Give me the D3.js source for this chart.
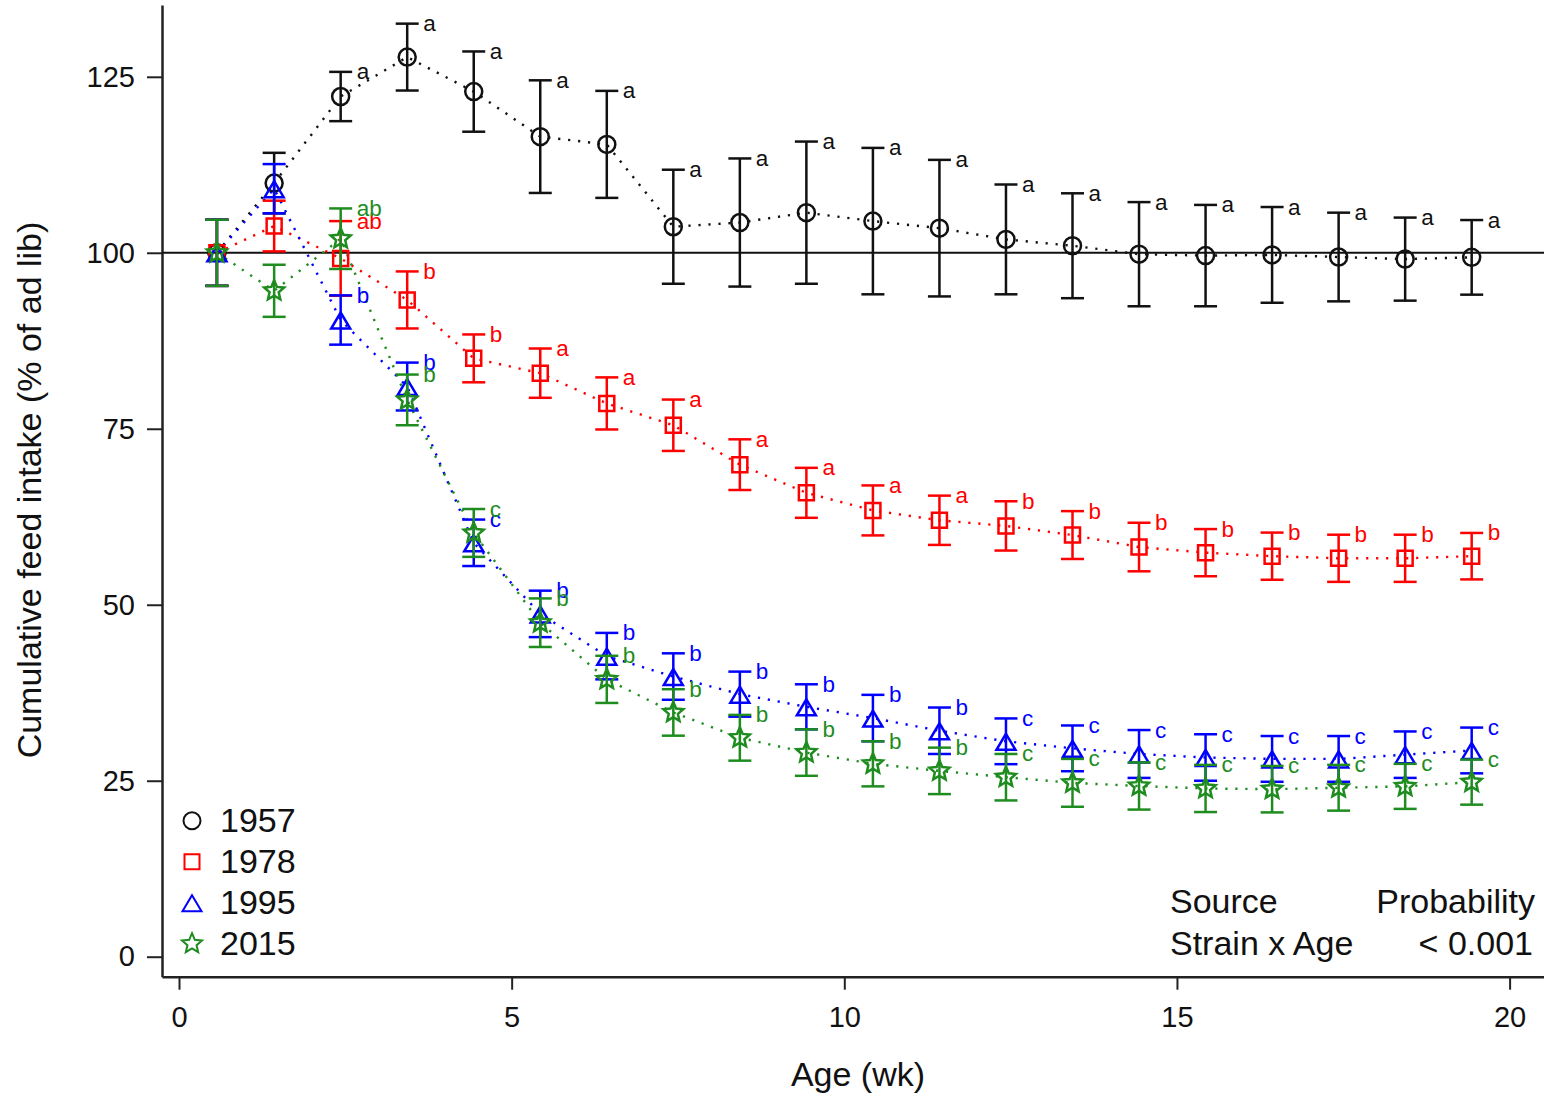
<!DOCTYPE html>
<html>
<head>
<meta charset="utf-8">
<script src="https://cdn.jsdelivr.net/npm/d3@7"></script>
<style>
  body { margin: 0; background: #fff; }
  svg { display: block; }
  text { font-family: "Liberation Sans", Arial, sans-serif; }
</style>
</head>
<body>
<svg id="chart" width="1544" height="1095"></svg>
<script>
// Age in weeks at each measurement
const ages = [0.57, 1.43, 2.43, 3.43, 4.43, 5.43, 6.43, 7.43, 8.43, 9.43,
              10.43, 11.43, 12.43, 13.43, 14.43, 15.43, 16.43, 17.43, 18.43, 19.43];

// Cumulative feed intake (% of ad lib), mean and SE per strain
const mean1957 = [100, 109.9, 122.2, 127.8, 122.9, 116.5, 115.4, 103.7, 104.3, 105.7,
                  104.5, 103.5, 101.9, 101.0, 99.8, 99.6, 99.7, 99.4, 99.1, 99.35];
const se1957   = [4.7, 4.3, 3.5, 4.75, 5.7, 8.0, 7.6, 8.1, 9.1, 10.1,
                  10.4, 9.7, 7.8, 7.45, 7.4, 7.2, 6.8, 6.3, 5.9, 5.3];

const mean1978 = [100, 103.8, 99.2, 93.3, 85.0, 82.9, 78.6, 75.5, 69.9, 65.9,
                  63.4, 62.0, 61.2, 59.9, 58.2, 57.4, 56.9, 56.6, 56.6, 56.9];
const se1978   = [4.7, 3.6, 5.3, 4.05, 3.4, 3.5, 3.7, 3.65, 3.6, 3.55,
                  3.55, 3.5, 3.5, 3.4, 3.45, 3.35, 3.35, 3.35, 3.35, 3.3];

const mean1995 = [100, 109.1, 90.45, 81.0, 58.8, 48.7, 42.7, 39.8, 37.3, 35.5,
                  33.9, 32.1, 30.6, 29.6, 28.8, 28.3, 28.1, 28.1, 28.7, 29.3];
const se1995   = [4.7, 3.5, 3.5, 3.4, 3.3, 3.3, 3.3, 3.3, 3.2, 3.2,
                  3.3, 3.3, 3.25, 3.25, 3.4, 3.3, 3.25, 3.25, 3.3, 3.25];

const mean2015 = [100, 94.6, 102.0, 79.1, 60.2, 47.45, 39.4, 34.7, 31.1, 29.0,
                  27.4, 26.4, 25.5, 24.7, 24.25, 23.9, 23.8, 24.0, 24.2, 24.8];
const se2015   = [4.7, 3.7, 4.3, 3.6, 3.4, 3.45, 3.35, 3.3, 3.25, 3.3,
                  3.2, 3.3, 3.3, 3.4, 3.35, 3.35, 3.3, 3.25, 3.2, 3.2];

// Mean separation letters within each age
const let1957 = ["", "", "a", "a", "a", "a", "a", "a", "a", "a",
                 "a", "a", "a", "a", "a", "a", "a", "a", "a", "a"];
const let1978 = ["", "", "ab", "b", "b", "a", "a", "a", "a", "a",
                 "a", "a", "b", "b", "b", "b", "b", "b", "b", "b"];
const let1995 = ["", "", "b", "b", "c", "b", "b", "b", "b", "b",
                 "b", "b", "c", "c", "c", "c", "c", "c", "c", "c"];
const let2015 = ["", "", "ab", "b", "c", "b", "b", "b", "b", "b",
                 "b", "b", "c", "c", "c", "c", "c", "c", "c", "c"];

const strains = ["1957", "1978", "1995", "2015"];
const colors  = ["#111111", "#ff0000", "#0000ff", "#1e8c1e"];

const xTicks = [0, 5, 10, 15, 20];
const yTicks = [0, 25, 50, 75, 100, 125];

// Open marker shapes
const markCircle = { draw(ctx) { ctx.moveTo(8.5, 0); ctx.arc(0, 0, 8.5, 0, 2 * Math.PI); } };
const markSquare = { draw(ctx) { ctx.rect(-7.5, -7.5, 15, 15); } };
const markTriangle = { draw(ctx) {
  ctx.moveTo(0, -7.5); ctx.lineTo(9.5, 8.5); ctx.lineTo(-9.5, 8.5); ctx.closePath();
} };
const markStar = { draw(ctx) {
  const R = 10.5, r = 4.8;
  for (let i = 0; i < 10; i++) {
    const rad = i % 2 === 0 ? R : r;
    const a = -Math.PI / 2 + i * Math.PI / 5;
    const px = rad * Math.cos(a), py = rad * Math.sin(a);
    if (i === 0) ctx.moveTo(px, py); else ctx.lineTo(px, py);
  }
  ctx.closePath();
} };
const shapes = [markCircle, markSquare, markTriangle, markStar];

const series = [
  { name: strains[0], color: colors[0], shape: shapes[0], mean: mean1957, se: se1957, letters: let1957 },
  { name: strains[1], color: colors[1], shape: shapes[1], mean: mean1978, se: se1978, letters: let1978 },
  { name: strains[2], color: colors[2], shape: shapes[2], mean: mean1995, se: se1995, letters: let1995 },
  { name: strains[3], color: colors[3], shape: shapes[3], mean: mean2015, se: se2015, letters: let2015 }
].map(s => ({ ...s, pts: ages.map((a, i) => ({ age: a, m: s.mean[i], s: s.se[i], lab: s.letters[i] })) }));

const svg = d3.select("#chart");

const x = d3.scaleLinear().domain([-0.2555, 20.517]).range([162, 1544]);
const y = d3.scaleLinear().domain([-2.84, 135.2]).range([976.7, 5]);

// Axes
const axisColor = "#222";
const gx = svg.append("g").attr("transform", `translate(0,${y.range()[0]})`)
  .call(d3.axisBottom(x).tickValues(xTicks).tickSize(13).tickSizeOuter(0).tickPadding(17));
const gy = svg.append("g").attr("transform", `translate(${x.range()[0]},0)`)
  .call(d3.axisLeft(y).tickValues(yTicks).tickSize(15).tickSizeOuter(0).tickPadding(12));
[gx, gy].forEach(g => {
  g.select(".domain").attr("stroke", axisColor).attr("stroke-width", 2.5);
  g.selectAll(".tick line").attr("stroke", axisColor).attr("stroke-width", 2);
  g.selectAll(".tick text").attr("fill", "#111").style("font-size", "29px")
    .style("font-family", '"Liberation Sans", Arial, sans-serif');
});

// Reference line at 100 %
svg.append("line")
  .attr("x1", x.range()[0]).attr("x2", x.range()[1])
  .attr("y1", y(100)).attr("y2", y(100))
  .attr("stroke", "#111").attr("stroke-width", 2);

// Dotted connecting lines
const line = d3.line().x(d => x(d.age)).y(d => y(d.m));
svg.append("g").selectAll("path").data(series).join("path")
  .attr("d", d => line(d.pts))
  .attr("fill", "none")
  .attr("stroke", d => d.color)
  .attr("stroke-width", 2.4)
  .attr("stroke-dasharray", "2.2 7.8");

// Error bars and markers
const cap = 11.5;
series.forEach(s => {
  const g = svg.append("g").attr("stroke", s.color).attr("stroke-width", 2.5).attr("fill", "none");
  const eb = g.selectAll("g.eb").data(s.pts).join("g").attr("class", "eb");
  eb.append("line")
    .attr("x1", d => x(d.age)).attr("x2", d => x(d.age))
    .attr("y1", d => y(d.m - d.s)).attr("y2", d => y(d.m + d.s));
  eb.append("line")
    .attr("x1", d => x(d.age) - cap).attr("x2", d => x(d.age) + cap)
    .attr("y1", d => y(d.m + d.s)).attr("y2", d => y(d.m + d.s));
  eb.append("line")
    .attr("x1", d => x(d.age) - cap).attr("x2", d => x(d.age) + cap)
    .attr("y1", d => y(d.m - d.s)).attr("y2", d => y(d.m - d.s));
  g.selectAll("path.mk").data(s.pts).join("path").attr("class", "mk")
    .attr("transform", d => `translate(${x(d.age)},${y(d.m)})`)
    .attr("d", d3.symbol().type(s.shape)());
});

// Significance letters beside the upper caps
series.forEach(s => {
  svg.append("g").selectAll("text").data(s.pts.filter(d => d.lab)).join("text")
    .attr("x", d => x(d.age) + 16)
    .attr("y", d => y(d.m + d.s) + 7.5)
    .attr("fill", s.color)
    .style("font-size", "22.5px")
    .text(d => d.lab);
});

// Axis titles
svg.append("text")
  .attr("x", 858).attr("y", 1086)
  .attr("text-anchor", "middle")
  .style("font-size", "34px").attr("fill", "#111")
  .text("Age (wk)");
svg.append("text")
  .attr("transform", "translate(41,490) rotate(-90)")
  .attr("text-anchor", "middle")
  .style("font-size", "34px").attr("fill", "#111")
  .text("Cumulative feed intake (% of ad lib)");

// Legend
const lg = svg.append("g");
series.forEach((s, i) => {
  const cy = 820.7 + i * 41;
  lg.append("path")
    .attr("transform", `translate(192,${cy})`)
    .attr("d", d3.symbol().type(s.shape)())
    .attr("fill", "none").attr("stroke", s.color).attr("stroke-width", 2);
  lg.append("text")
    .attr("x", 220).attr("y", cy + 11.7)
    .style("font-size", "34px").attr("fill", "#111")
    .text(s.name);
});

// Statistics note
const note = svg.append("g").style("font-size", "34px").attr("fill", "#111");
note.append("text").attr("x", 1170).attr("y", 913).text("Source");
note.append("text").attr("x", 1170).attr("y", 955).text("Strain x Age");
note.append("text").attr("x", 1535).attr("y", 913).attr("text-anchor", "end").text("Probability");
note.append("text").attr("x", 1533).attr("y", 955).attr("text-anchor", "end").text("< 0.001");
</script>
</body>
</html>
